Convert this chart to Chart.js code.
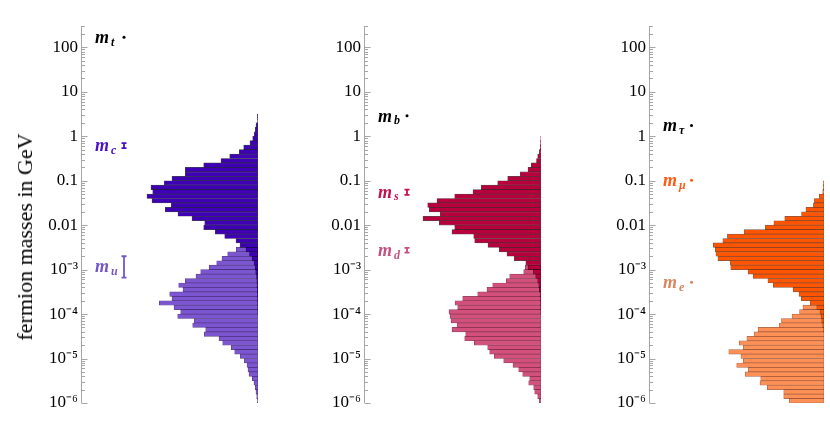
<!DOCTYPE html>
<html><head><meta charset="utf-8">
<script src="https://cdn.jsdelivr.net/npm/chart.js@4.4.1/dist/chart.umd.min.js"></script>
<style>
html,body{margin:0;padding:0;background:#fff;width:830px;height:429px;overflow:hidden;}
.panel{position:absolute;top:0;height:429px;}
#ytitle{position:absolute;left:25px;top:237px;transform:translate(-50%,-50%) rotate(-90deg);font:22px 'Liberation Serif','Times New Roman',serif;white-space:nowrap;color:#000;}
</style></head><body>
<div class="panel" style="left:0;width:258px"><canvas id="c1"></canvas></div>
<div class="panel" style="left:283px;width:258px"><canvas id="c2"></canvas></div>
<div class="panel" style="left:568px;width:256px"><canvas id="c3"></canvas></div>
<div id="ytitle">fermion masses in GeV</div>
<script>
// ---- data ----
// bin centres, log10(mass / GeV), bins of 0.1 decade
const binCentersLog = [0.45,0.35,0.25,0.15,0.05,-0.05,-0.15,-0.25,-0.35,-0.45,
 -0.55,-0.65,-0.75,-0.85,-0.95,-1.05,-1.15,-1.25,-1.35,-1.45,
 -1.55,-1.65,-1.75,-1.85,-1.95,-2.05,-2.15,-2.25,-2.35,-2.45,
 -2.55,-2.65,-2.75,-2.85,-2.95,-3.05,-3.15,-3.25,-3.35,-3.45,
 -3.55,-3.65,-3.75,-3.85,-3.95,-4.05,-4.15,-4.25,-4.35,-4.45,
 -4.55,-4.65,-4.75,-4.85,-4.95,-5.05,-5.15,-5.25,-5.35,-5.45,
 -5.55,-5.65,-5.75,-5.85,-5.95];
const histCharm = [0.7,0.5,2,2.7,3.7,5.3,8,14.3,18.7,28.3,
 37,54.3,72.7,72.7,86,93.7,107,105.3,111,106,
 86.7,92.7,80,66,53.3,54.3,42.7,33.3,22,18,
 12,8.5,6,4,3,2.3,1.5,1.2,1,0.8,
 0.6,0.5,0.4,0.3,0.2,0,0,0,0,0,
 0,0,0,0,0,0,0,0,0,0,
 0,0,0,0,0];
const histUp = [0,0,0,0,0,0,0,0,0,0,
 0,0,0,0,0,0,0,0,0,0,
 0,0,0,0,0,0,0,0,0,0,
 21.7,30.3,36,41.3,48.7,57.3,62,72.7,79.3,75,
 88.3,86,98.7,84,77.3,80.3,63.7,65.3,52.3,53.7,
 39,35.3,26.7,23.3,17.7,13.7,11,10,9,5.7,
 4,2.7,2,1.3,0.7];
const histStrange = [0,0,0,0,0,0.3,0.5,0.8,1.7,3.3,
 4.5,9.7,13,20.7,33.3,43.3,59.7,68,86.3,104,
 113.3,111.7,100.7,118,101.7,86.3,89,67.3,66.3,53,
 41.7,34,26.7,15.2,13,7.6,5.3,3.3,2.3,1.7,
 1,0.8,0.6,0.4,0.3,0,0,0,0,0,
 0,0,0,0,0,0,0,0,0,0,
 0,0,0,0,0];
const histDown = [0,0,0,0,0,0,0,0,0,0,
 0,0,0,0,0,0,0,0,0,0,
 0,0,0,0,0,0,0,0,0,0,
 0,0,0,0,15.7,17.3,31.3,34.7,48.3,54,
 63.3,78.3,86,83.3,92,91,90,84,89,75.3,
 76.3,66.7,53.3,51.3,46.7,37.3,28,22.3,18.3,11.3,
 12.3,7.3,6.3,3.3,1.7];
const histMuon = [0,0,0,0,0,0,0,0,0,0,
 0,0,0,0,0,0.7,0.7,1.3,4.7,9.7,
 10.7,18.3,22.7,39.7,50.7,59.3,80.7,97.7,102.3,112,
 110,109.3,107.3,94.7,94.3,76.7,71.7,56.7,51.3,31.3,
 25.3,23,14,7.3,4,3,2.3,1.3,0.7,0,
 0,0,0,0,0,0,0,0,0,0,
 0,0,0,0,0];
const histElectron = [0,0,0,0,0,0,0,0,0,0,
 0,0,0,0,0,0,0,0,0,0,
 0,0,0,0,0,0,0,0,0,0,
 0,0,0,0,0,0,0,0,0,0,
 0,0,0,21.3,24.7,32.3,43,45.3,66.7,70.7,
 78,85.7,81.7,96.3,84,81.7,88.3,76.7,79.7,64,
 64.7,57.3,40.7,40.7,35];

// measured masses (GeV)
const markerSub   = ['t','c','u','b','s','d','τ','μ','e'];
const markerPanel = [0,0,0,1,1,1,2,2,2];
const markerMass  = [168,0.62,1.2e-3,2.9,0.056,2.75e-3,1.75,0.103,5.2e-4];
const markerLow   = [null,0.54,0.66e-3,null,0.048,2.4e-3,null,null,null];
const markerHigh  = [null,0.70,2.0e-3,null,0.063,3.1e-3,null,null,null];

// axis ticks
const tickValues = [-6,-5,-4,-3,-2,-1,0,1,2];
const tickLabels = ['10⁻⁶','10⁻⁵','10⁻⁴','10⁻³','0.01','0.1','1','10','100'];
const minorMultipliers = [2,3,4,5,6,7,8,9];

// ---- styles ----
const markerColors = ['#000000','#4a10cc','#7456c8','#000000','#c4104c','#c45080','#000000','#ff5a10','#d88860'];
const panelColors = [
  {dark:'#3f00b5', light:'#7c55d0', darkEdge:'rgba(0,0,30,0.75)', lightEdge:'rgba(50,20,110,0.8)'},
  {dark:'#b8003c', light:'#d4507c', darkEdge:'rgba(40,0,10,0.75)', lightEdge:'rgba(110,20,50,0.8)'},
  {dark:'#ff5500', light:'#ff9055', darkEdge:'rgba(90,30,0,0.75)', lightEdge:'rgba(140,60,30,0.8)'}
];
const MARKER_X = 134;   // horizontal place of the measured-mass markers (x units)
const X_MAX = 177;
const Y_MIN = -6, Y_MAX = 2.48;
const SERIF = "'Liberation Serif','Times New Roman',serif";

const axisPlugin = {
  id:'axisTicks',
  beforeDatasetsDraw(chart){
    const s = chart.scales.y, ctx = chart.ctx, x0 = Math.round(chart.chartArea.left)+0.5;
    ctx.save();
    ctx.strokeStyle = '#a6a6a6'; ctx.lineWidth = 1;
    ctx.beginPath();
    ctx.moveTo(x0, s.top); ctx.lineTo(x0, s.bottom);
    tickValues.forEach(n => {
      let y = Math.round(s.getPixelForValue(n))+0.5;
      ctx.moveTo(x0, y); ctx.lineTo(x0+6, y);
      minorMultipliers.forEach(m => {
        const v = n + Math.log10(m);
        if (v > Y_MAX + 1e-4) return;
        y = Math.round(s.getPixelForValue(v))+0.5;
        ctx.moveTo(x0, y); ctx.lineTo(x0+3.5, y);
      });
    });
    ctx.stroke();
    ctx.restore();
  }
};

const markerPlugin = {
  id:'markerLabels',
  afterDatasetsDraw(chart){
    const p = chart.options.plugins.markerLabels.panel;
    const ys = chart.scales.y, xs = chart.scales.x, ctx = chart.ctx;
    ctx.save();
    markerSub.forEach((sub,i) => {
      if (markerPanel[i] !== p) return;
      const col = markerColors[i];
      const yc = ys.getPixelForValue(Math.log10(markerMass[i]));
      const xc = xs.getPixelForValue(MARKER_X);
      if (markerLow[i] !== null) {
        const y1 = ys.getPixelForValue(Math.log10(markerHigh[i]));
        const y2 = ys.getPixelForValue(Math.log10(markerLow[i]));
        ctx.strokeStyle = col; ctx.lineWidth = 1.8;
        ctx.beginPath();
        ctx.moveTo(xc, y1); ctx.lineTo(xc, y2);
        ctx.moveTo(xc-2.5, y1); ctx.lineTo(xc+2.5, y1);
        ctx.moveTo(xc-2.5, y2); ctx.lineTo(xc+2.5, y2);
        ctx.stroke();
      }
      const lx = chart.chartArea.left + 14;
      ctx.fillStyle = col;
      ctx.textAlign = 'left'; ctx.textBaseline = 'alphabetic';
      ctx.font = 'italic bold 18px ' + SERIF;
      ctx.fillText('m', lx, yc + 6);
      const w = ctx.measureText('m').width;
      ctx.font = 'italic bold 12px ' + SERIF;
      ctx.fillText(sub, lx + w + 2, yc + 8.5);
    });
    ctx.restore();
  }
};

function makePanel(id, panel, dark, light){
  const idx = [];
  markerSub.forEach((s,i)=>{ if (markerPanel[i]===panel) idx.push(i); });
  const pc = panelColors[panel];
  return new Chart(document.getElementById(id), {
    type:'bar',
    data:{
      datasets:[
        {
          type:'scatter',
          data: idx.map(i => ({x: MARKER_X, y: Math.log10(markerMass[i])})),
          pointRadius: idx.map(i => markerLow[i] === null ? 1.5 : 0),
          pointHoverRadius: 0,
          pointBackgroundColor: idx.map(i => markerColors[i]),
          pointBorderWidth: 0,
          order: 0
        },
        {
          data: binCentersLog.map((y,i) => ({x: dark[i], y})),
          backgroundColor: pc.dark,
          borderColor: pc.darkEdge, borderWidth: 0.7, borderSkipped: false,
          grouped: false, barPercentage: 1, categoryPercentage: 1, order: 1
        },
        {
          data: binCentersLog.map((y,i) => ({x: light[i], y})),
          backgroundColor: pc.light,
          borderColor: pc.lightEdge, borderWidth: 0.7, borderSkipped: false,
          grouped: false, barPercentage: 1, categoryPercentage: 1, order: 2
        }
      ]
    },
    options:{
      indexAxis:'y',
      animation:false, responsive:true, maintainAspectRatio:false,
      layout:{autoPadding:false, padding:{top:26, bottom:26, left:0, right:0}},
      plugins:{legend:{display:false}, tooltip:{enabled:false}, markerLabels:{panel}},
      scales:{
        x:{type:'linear', reverse:true, min:0, max:X_MAX, display:false},
        y:{
          type:'linear', min:Y_MIN, max:Y_MAX, offset:false,
          grid:{display:false, drawTicks:false, offset:false}, border:{display:false},
          afterBuildTicks(scale){
            scale.ticks = tickValues.map(v => ({value:v}));
          },
          afterFit(scale){ scale.width = 81; },
          ticks:{
            autoSkip:false, padding:3, color:'#000',
            font:{family:SERIF, size:17},
            callback(value){
              const k = tickValues.indexOf(value);
              return k >= 0 ? tickLabels[k] : '';
            }
          }
        }
      }
    },
    plugins:[axisPlugin, markerPlugin]
  });
}

makePanel('c1', 0, histCharm, histUp);
makePanel('c2', 1, histStrange, histDown);
makePanel('c3', 2, histMuon, histElectron);
</script>
</body></html>
